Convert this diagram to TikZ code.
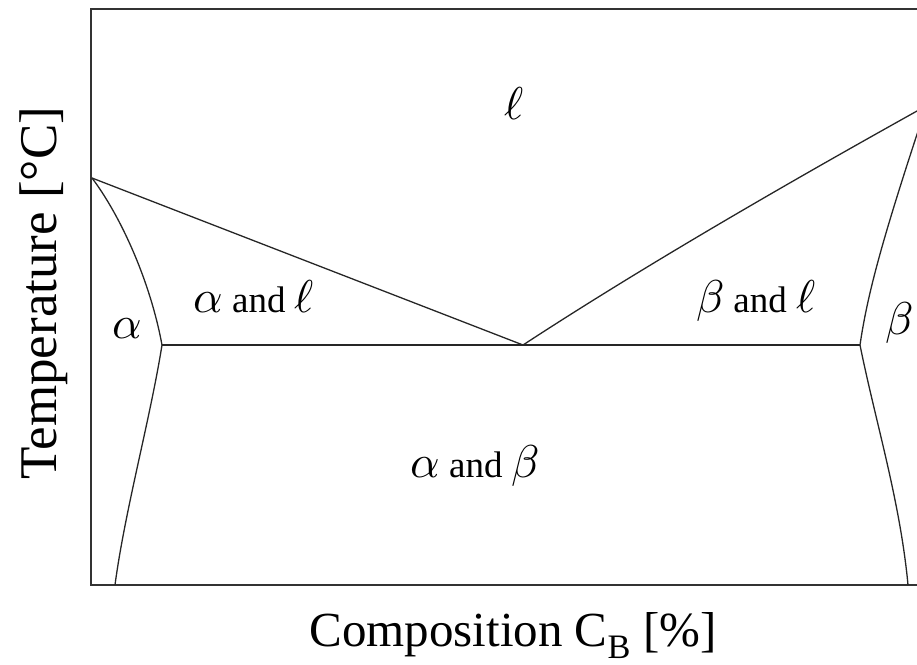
\documentclass[tikz,border=0pt]{standalone}
\usepackage{fontspec}
\usepackage{unicode-math}
\setmainfont{Liberation Serif}
\setmathfont{Latin Modern Math}
\begin{document}
\begin{tikzpicture}[x=1pt,y=-1pt,
  curve/.style={line width=1.3pt,black!85},
  frame/.style={line width=1.8pt,black!80},
  phase/.style={inner sep=0pt,anchor=base,font=\fontsize{46}{46}\selectfont},
  mixlab/.style={inner sep=0pt,anchor=base,font=\fontsize{37}{37}\selectfont},
  axislab/.style={inner sep=0pt,font=\fontsize{49}{49}\selectfont}]
\useasboundingbox (0,0) rectangle (917,664);
\begin{scope}
\clip (0,0) rectangle (917,664);
\coordinate (tl) at (91,9);
\coordinate (tr) at (930,9);
\coordinate (bl) at (91,585);
\coordinate (br) at (930,585);
\coordinate (ma) at (92,178);
\coordinate (sa) at (162,345);
\coordinate (ba) at (115,585);
\coordinate (eu) at (523,345);
\coordinate (sb) at (860,345);
\coordinate (bb) at (908,585);
\coordinate (mb) at (930,95);
\coordinate (lb) at (935,101);
\draw[frame] (tr) -- (tl) -- (bl) -- (br);
\draw[curve] (ma) -- (eu);
\draw[curve] (eu) .. controls (650,262) and (800,176) .. (lb);
\draw[curve] (sa) -- (sb);
\draw[curve] (ma) .. controls (120,215) and (150,280) .. (sa);
\draw[curve] (sa) .. controls (150,420) and (125,510) .. (ba);
\draw[curve] (sb) .. controls (868,290) and (885,230) .. (mb);
\draw[curve] (sb) .. controls (875,420) and (900,500) .. (bb);
\node[phase] (liq) at (514,119) {$\ell$};
\node[phase] (alab) at (127,338) {$\alpha$};
\node[phase] (blab) at (899,334) {$\beta$};
\node[mixlab] (al) at (254,312) {{\fontsize{46}{46}\selectfont$\alpha$} and {\fontsize{46}{46}\selectfont$\ell$}};
\node[mixlab] (bl2) at (756,312) {{\fontsize{46}{46}\selectfont$\beta$} and {\fontsize{46}{46}\selectfont$\ell$}};
\node[mixlab] (ab) at (475,477) {{\fontsize{46}{46}\selectfont$\alpha$} and {\fontsize{46}{46}\selectfont$\beta$}};
\end{scope}
\node[axislab,anchor=base] (xl) at (513,646) {Composition C\textsubscript{B} [\%]};
\node[axislab,anchor=base,rotate=90,font=\fontsize{53}{53}\selectfont] (yl) at (56,293) {Temperature [°C]};
\end{tikzpicture}
\end{document}
